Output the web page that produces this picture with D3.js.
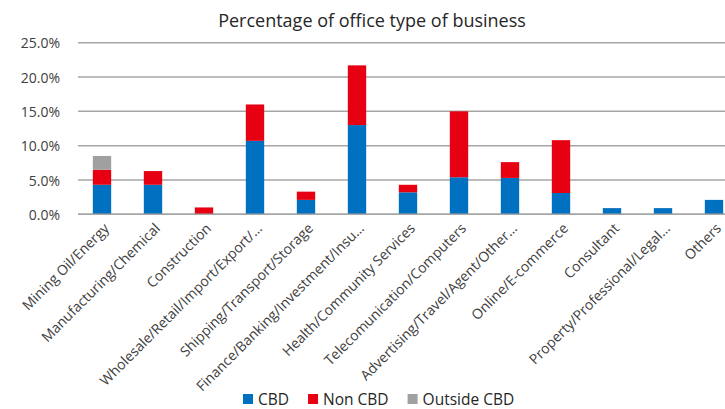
<!DOCTYPE html>
<html>
<head>
<meta charset="utf-8">
<script src="https://cdn.jsdelivr.net/npm/d3@7"></script>
<style>
  html, body { margin: 0; padding: 0; background: #fff; }
  svg { display: block; font-family: "Open Sans", "Noto Sans", sans-serif; }
</style>
</head>
<body>
<svg id="chart" width="725" height="409"></svg>
<script>
// Business categories (labels as shown on the axis)
const categories = [
  "Mining Oil/Energy",
  "Manufacturing/Chemical",
  "Construction",
  "Wholesale/Retail/Import/Export/…",
  "Shipping/Transport/Storage",
  "Finance/Banking/Investment/Insu…",
  "Health/Community Services",
  "Telecomunication/Computers",
  "Advertising/Travel/Agent/Other…",
  "Online/E-commerce",
  "Consultant",
  "Property/Professional/Legal…",
  "Others"
];

// Share of respondents (%) by office location
const cbd        = [4.3, 4.3, 0.0, 10.7, 2.1, 13.0, 3.2, 5.4, 5.3, 3.1, 0.9, 0.9, 2.1];
const nonCbd     = [2.2, 2.0, 1.0, 5.3, 1.2, 8.7, 1.1, 9.6, 2.3, 7.7, 0.0, 0.0, 0.0];
const outsideCbd = [2.0, 0.0, 0.0, 0.0, 0.0, 0.0, 0.0, 0.0, 0.0, 0.0, 0.0, 0.0, 0.0];

const seriesNames = ["CBD", "Non CBD", "Outside CBD"];
const seriesColors = ["#0070C0", "#E60012", "#A0A0A0"];
const yTicks = [0, 5, 10, 15, 20, 25];

const rows = categories.map((c, i) => ({
  category: c,
  "CBD": cbd[i],
  "Non CBD": nonCbd[i],
  "Outside CBD": outsideCbd[i]
}));

const svg = d3.select("#chart");

const x = d3.scaleBand()
  .domain(categories)
  .range([76.5, 739.5])
  .paddingInner(0.64)
  .paddingOuter(0.32);

const y = d3.scaleLinear()
  .domain([0, 25])
  .range([214.3, 42.7]);

// Title
svg.append("text")
  .attr("x", 372)
  .attr("y", 27)
  .attr("text-anchor", "middle")
  .attr("font-size", 18)
  .attr("fill", "#262626")
  .text("Percentage of office type of business");

// Horizontal gridlines
svg.append("g")
  .selectAll("line")
  .data(yTicks)
  .join("line")
  .attr("x1", 78)
  .attr("x2", 739)
  .attr("y1", d => y(d))
  .attr("y2", d => y(d))
  .attr("stroke", "#A6A6A6")
  .attr("stroke-width", 1.5);

// Y axis tick labels
const yAxis = d3.axisLeft(y)
  .tickValues(yTicks)
  .tickFormat(d => d.toFixed(1) + "%")
  .tickSize(0)
  .tickPadding(0);

svg.append("g")
  .attr("transform", "translate(60,0)")
  .call(yAxis)
  .call(g => g.select(".domain").remove())
  .call(g => g.selectAll("text")
    .attr("font-family", "\"Open Sans\", sans-serif")
    .attr("font-size", 14)
    .attr("fill", "#404040")
    .attr("dy", "0.36em"));

// Stacked bars
const stack = d3.stack().keys(seriesNames);
const stacked = stack(rows);

svg.append("g")
  .selectAll("g")
  .data(stacked)
  .join("g")
  .attr("fill", (d, i) => seriesColors[i])
  .selectAll("rect")
  .data(d => d.filter(p => p[1] - p[0] > 0))
  .join("rect")
  .attr("x", d => x(d.data.category))
  .attr("width", x.bandwidth())
  .attr("y", d => y(d[1]))
  .attr("height", d => y(d[0]) - y(d[1]));

// Zero baseline on top of bars
svg.append("line")
  .attr("x1", 78)
  .attr("x2", 739)
  .attr("y1", y(0))
  .attr("y2", y(0))
  .attr("stroke", "#A6A6A6")
  .attr("stroke-width", 1.5);

// X axis category labels, rotated
const xAxis = d3.axisBottom(x).tickSize(0).tickPadding(0);
svg.append("g")
  .attr("transform", `translate(0,${y(0)})`)
  .call(xAxis)
  .call(g => g.select(".domain").remove())
  .call(g => g.selectAll("text")
    .attr("font-family", "\"Open Sans\", sans-serif")
    .attr("font-size", 14)
    .attr("fill", "#404040")
    .attr("text-anchor", "end")
    .attr("dy", 0)
    .attr("transform", "translate(8,15) rotate(-45)"));

// Legend
const legend = svg.append("g").attr("transform", "translate(243,399)");
let lx = 0;
seriesNames.forEach((name, i) => {
  const item = legend.append("g").attr("transform", `translate(${lx},0)`);
  item.append("rect")
    .attr("x", 0).attr("y", -5)
    .attr("width", 10).attr("height", 10)
    .attr("fill", seriesColors[i]);
  const t = item.append("text")
    .attr("x", 15)
    .attr("y", 0)
    .attr("dy", "0.36em")
    .attr("font-size", 15.5)
    .attr("fill", "#262626")
    .text(name);
  lx += 15 + t.node().getComputedTextLength() + 19;
});
</script>
</body>
</html>
